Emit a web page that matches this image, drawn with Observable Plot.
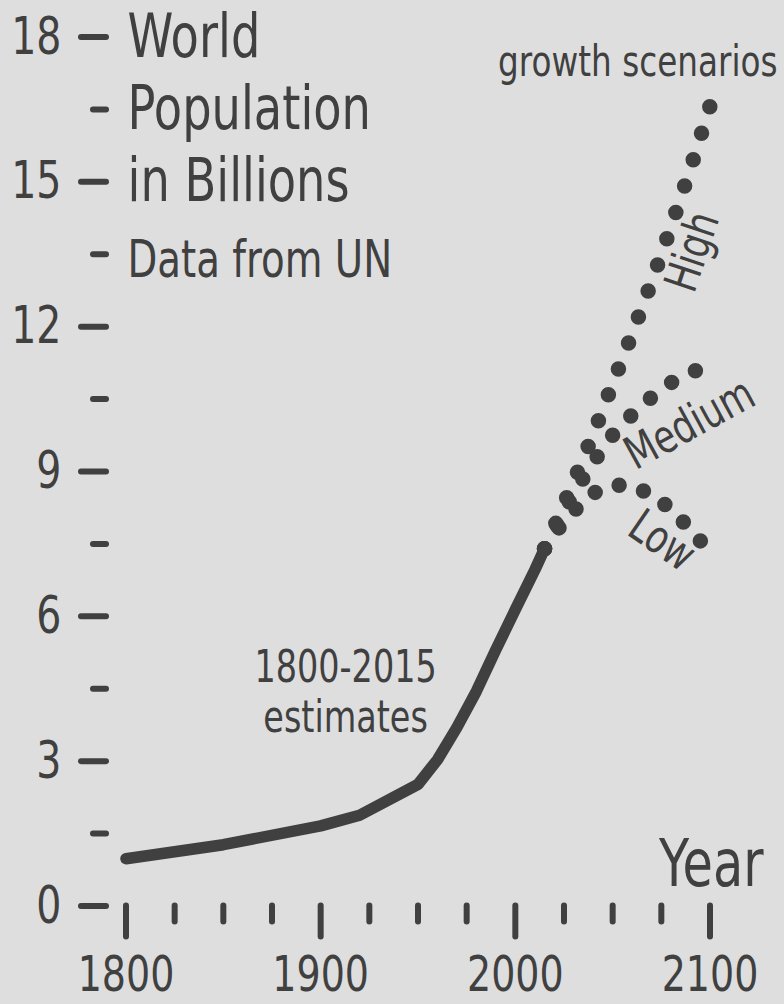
<!DOCTYPE html>
<html><head><meta charset="utf-8">
<script src="https://cdn.jsdelivr.net/npm/d3@7"></script>
<script src="https://cdn.jsdelivr.net/npm/@observablehq/plot@0.6"></script>
<style>
html,body{margin:0;padding:0;background:#dedede;overflow:hidden}
#chart svg{display:block}
</style></head><body><div id="chart"></div>
<script>
// ---- data ----
const histYears = [1800,1850,1900,1920,1950,1960,1970,1980,1990,2000,2010,2015];
const histPop   = [0.98,1.27,1.66,1.88,2.52,3.03,3.70,4.45,5.31,6.14,6.96,7.40];
const projYears = [2015,2020,2030,2040,2050,2060,2070,2080,2090,2100];
const highPop   = [7.40,7.85,8.80,9.77,10.82,11.85,12.93,14.07,15.28,16.57];
const mediumPop = [7.40,7.78,8.54,9.19,9.75,10.18,10.54,10.84,11.05,11.20];
const lowPop    = [7.40,7.72,8.18,8.55,8.72,8.70,8.52,8.22,7.80,7.33];
const scenarioNames = ["High","Medium","Low"];
const scenarioLabelX = [2091.2, 2089.6, 2075.3];
const scenarioLabelY = [13.55, 9.98, 7.56];
const scenarioLabelAngle = [-71.5, -28.6, 34.6];
const yMajorTicks = [0,3,6,9,12,15,18];
const yMinorTicks = [1.5,4.5,7.5,10.5,13.5,16.5];
const xMajorTicks = [1800,1900,2000,2100];
const xMinorTicks = [1825,1850,1875,1925,1950,1975,2025,2050,2075];
const titleLines = ["World","Population","in Billions","Data from UN"];
const titleY = [18,16.5,15,13.5];
const annotations = ["growth scenarios","1800-2015\nestimates","Year"];
const annotationX = [2134.7, 1912.8, 2127.5];
const annotationY = [17.47, 4.445, 0.843];

// ---- tables ----
const hist = histYears.map((year,i) => ({year, pop: histPop[i]}));
const scenarioValues = [highPop, mediumPop, lowPop];
const scenarios = scenarioNames.map((name,k) =>
  projYears.map((year,i) => ({name, year, pop: scenarioValues[k][i]})));
const scenarioLabels = scenarioNames.map((name,i) => ({name, x: scenarioLabelX[i], y: scenarioLabelY[i], a: scenarioLabelAngle[i]}));
const titles = titleLines.map((t,i) => ({t, y: titleY[i]}));
const notes = annotations.map((t,i) => ({t, x: annotationX[i], y: annotationY[i]}));

const ink = "#404040";
const dotSpacing = {High: 27.78, Medium: 26.5, Low: 25.45};

const chart = Plot.plot({
  width: 784, height: 1004,
  marginLeft: 125.5, marginRight: 74.5, marginTop: 36.5, marginBottom: 98.5,
  x: {domain: [1800, 2100]},
  y: {domain: [0, 18]},
  style: {background: "#dedede", color: ink, fontFamily: "DejaVu Sans"},
  marks: [
    Plot.axisY(yMajorTicks, {anchor: "left", label: null, tickSize: 25, tickPadding: 20, dx: -19.5,
      strokeWidth: 6, strokeLinecap: "round", fontSize: 52, tickFormat: d => String(d)}),
    Plot.axisY(yMinorTicks, {anchor: "left", label: null, tickSize: 13, dx: -19.5,
      strokeWidth: 6, strokeLinecap: "round", tickFormat: () => ""}),
    Plot.axisX(xMajorTicks, {anchor: "bottom", label: null, tickSize: 31, tickPadding: 18,
      strokeWidth: 6, strokeLinecap: "round", fontSize: 50, tickFormat: d => String(d)}),
    Plot.axisX(xMinorTicks, {anchor: "bottom", label: null, tickSize: 16,
      strokeWidth: 6, strokeLinecap: "round", tickFormat: () => ""}),
    ...scenarios.map(rows => Plot.line(rows, {x: "year", y: "pop", stroke: ink, strokeWidth: 15.5,
      strokeLinecap: "round", strokeDasharray: `0 ${dotSpacing[rows[0].name]}`})),
    Plot.line(hist, {x: "year", y: "pop", stroke: ink, strokeWidth: 11.5,
      strokeLinecap: "round", strokeLinejoin: "round"}),
    ...scenarioLabels.map(d => Plot.text([d], {x: "x", y: "y", text: "name", rotate: d.a,
      fontSize: 46, fill: ink, textAnchor: "middle", lineAnchor: "middle"})),
    Plot.text(titles.slice(0,3), {x: () => 1800, y: "y", text: "t", dx: 1.5, fontSize: 61,
      fill: ink, textAnchor: "start", lineAnchor: "middle"}),
    Plot.text(titles.slice(3), {x: () => 1800, y: "y", text: "t", dx: 1.5, dy: 6, fontSize: 51,
      fill: ink, textAnchor: "start", lineAnchor: "middle"}),
    Plot.text(notes.slice(0,1), {x: "x", y: "y", text: "t", fontSize: 43, fill: ink,
      textAnchor: "end", lineAnchor: "middle"}),
    Plot.text(notes.slice(1,2), {x: "x", y: "y", text: "t", fontSize: 44, lineHeight: 1.136, fill: ink,
      textAnchor: "middle", lineAnchor: "middle"}),
    Plot.text(notes.slice(2,3), {x: "x", y: "y", text: "t", fontSize: 65, fill: ink,
      textAnchor: "end", lineAnchor: "middle"})
  ]
});

// narrow lettering, as in the reference
d3.select(chart).selectAll("text").each(function() {
  const t = this.getAttribute("transform") || "";
  this.setAttribute("transform", (t + " scale(0.76,1)").trim());
});

document.getElementById("chart").appendChild(chart);
</script>
</body></html>
